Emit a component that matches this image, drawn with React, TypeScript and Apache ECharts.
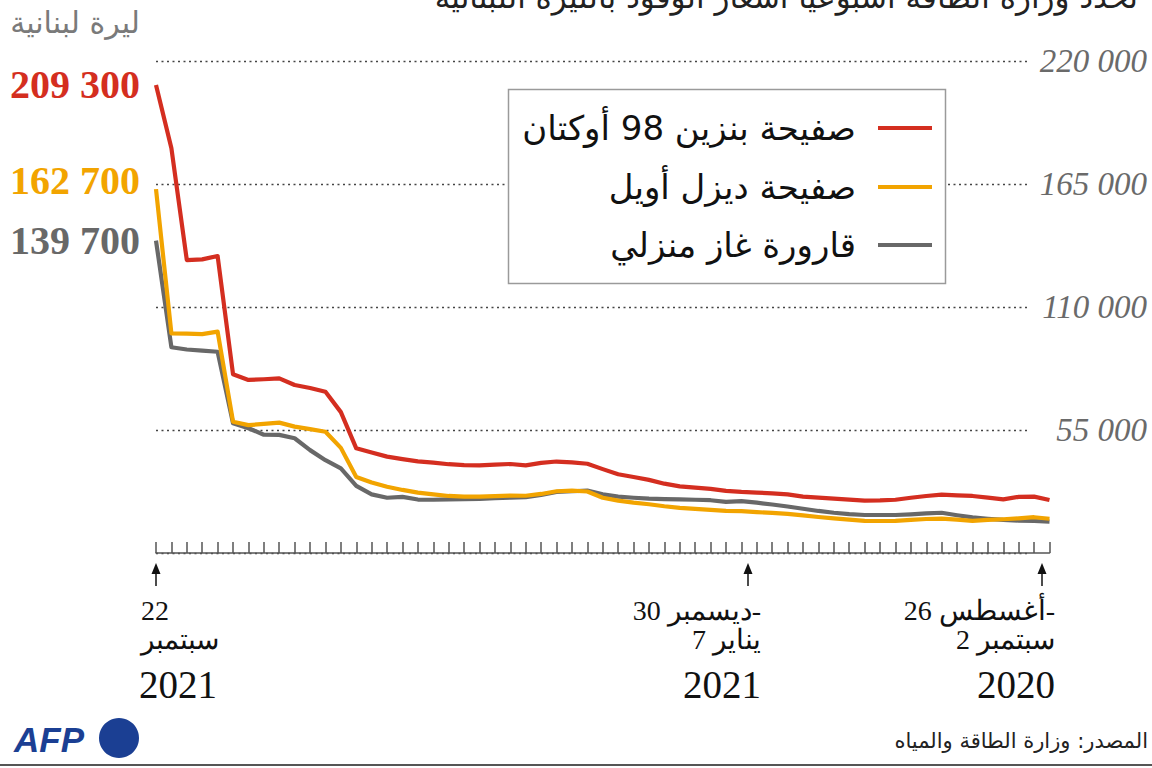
import React, { useEffect, useRef } from "react";
import * as echarts from "echarts";

// Weekly prices in Lebanese pounds, left (22 Sep 2021) → right (26 Aug–2 Sep 2020)
const petrol98 = [209300, 181000, 131000, 131300, 132800, 79900, 77400, 77700, 78100, 75100, 73800, 72100, 63000, 46800, 44900, 43100, 42000, 41000, 40400, 39700, 39300, 39200, 39500, 39800, 39200, 40300, 40900, 40500, 39900, 37500, 35200, 34000, 32700, 31000, 29800, 29200, 28700, 27800, 27300, 27000, 26700, 26200, 25200, 24800, 24300, 23900, 23450, 23500, 23800, 24700, 25500, 26100, 25800, 25500, 24800, 24000, 25100, 25200, 23700];
const diesel = [162700, 98200, 98100, 97900, 99000, 58700, 57200, 57700, 58300, 56500, 55400, 54200, 47000, 34000, 31500, 29600, 28200, 27000, 26200, 25500, 25200, 25200, 25400, 25700, 25600, 26400, 27600, 27900, 27500, 24700, 23400, 22500, 21800, 20900, 20200, 19700, 19300, 18800, 18700, 18300, 17900, 17500, 16800, 16100, 15500, 14900, 14400, 14300, 14400, 14800, 15200, 15400, 14900, 14400, 14800, 15100, 15500, 16000, 15300];
const gasCylinder = [139700, 92000, 91000, 90500, 90000, 58000, 55800, 52900, 52800, 51300, 46000, 41500, 37800, 30000, 26200, 24700, 25100, 23900, 23800, 24000, 24100, 24200, 24500, 24800, 25000, 26000, 27300, 27600, 27900, 26200, 25200, 24700, 24300, 24100, 24000, 23800, 23600, 22900, 23200, 22500, 21700, 20800, 19800, 18800, 18000, 17400, 17000, 17000, 17000, 17300, 17700, 18000, 16900, 15900, 15300, 14800, 14500, 14300, 14000];
const weeks = petrol98.map((_, i) => String(i));

const seriesNames = ["صفيحة بنزين 98 أوكتان", "صفيحة ديزل أويل", "قارورة غاز منزلي"];
const seriesColors = ["#d42e20", "#f2a400", "#686868"];

const yTicks = { min: 0, max: 220000, interval: 55000 };

// date annotations: [week position from left, line1, line2, year, align]
const dateMarks: [number, string, string, string, string][] = [
  [0, "22", "سبتمبر", "2021", "left"],
  [38.45, "30 ديسمبر-", "7 يناير", "2021", "right"],
  [57.5, "26 أغسطس-", "2 سبتمبر", "2020", "right"],
];

const title = "تحدد وزارة الطاقة أسبوعيا أسعار الوقود بالليرة اللبنانية";
const unit = "ليرة لبنانية";
const source = "المصدر: وزارة الطاقة والمياه";

const fmt = (v: number) => String(v).replace(/\B(?=(\d{3})+(?!\d))/g, " ");
const LRM = "\u200E";

const GRID_LEFT = 156;
const GRID_RIGHT_X = 1049.5;
const GRID_TOP = 61;
const GRID_BOTTOM_Y = 553;
const AR_FONT = '"DejaVu Sans", "Noto Sans", sans-serif';
const SERIF = '"Liberation Serif", "DejaVu Serif", serif';

export default function App() {
  const ref = useRef<HTMLDivElement>(null);
  useEffect(() => {
    if (!ref.current) return;
    const chart = echarts.init(ref.current, null, { renderer: "svg" });
    const step = (GRID_RIGHT_X - GRID_LEFT) / (weeks.length - 1);
    const allData = [petrol98, diesel, gasCylinder];
    const labelDy = [0, -9, 0];

    const graphic: any[] = [];
    graphic.push({
      type: "text",
      style: { text: title, x: 1138, y: -3, align: "right", verticalAlign: "middle", fontSize: 31, fontFamily: AR_FONT, fill: "#222" },
    });
    graphic.push({
      type: "text",
      style: { text: unit, x: 140, y: 22, align: "right", verticalAlign: "middle", fontSize: 30, fontFamily: AR_FONT, fill: "#7a7a7a" },
    });
    graphic.push({
      type: "rect",
      shape: { x: 508.5, y: 89.5, width: 437, height: 194 },
      style: { fill: "#fff", stroke: "#9a9a9a", lineWidth: 1.5 },
      z: 10,
    });
    const legendY = [128, 187, 245];
    seriesNames.forEach((name, i) => {
      graphic.push({
        type: "text",
        z: 11,
        style: { text: name, x: 856, y: legendY[i], align: "right", verticalAlign: "middle", fontSize: 34, fontFamily: AR_FONT, fill: "#111" },
      });
      graphic.push({
        type: "line",
        z: 11,
        shape: { x1: 878, y1: legendY[i], x2: 932, y2: legendY[i] },
        style: { stroke: seriesColors[i], lineWidth: 4 },
      });
    });
    dateMarks.forEach(([pos, l1, l2, yr, al]) => {
      const x = Math.round(GRID_LEFT + pos * step);
      graphic.push({ type: "line", shape: { x1: x, y1: 570, x2: x, y2: 586 }, style: { stroke: "#111", lineWidth: 1.5 } });
      graphic.push({ type: "polygon", shape: { points: [[x, 563], [x - 4.5, 574], [x + 4.5, 574]] }, style: { fill: "#111" } });
      const tx = al === "left" ? 141 : x + 13;
      graphic.push({
        type: "text",
        style: {
          text: LRM + l1 + "\n" + LRM + l2,
          x: tx,
          y: 596,
          align: al,
          verticalAlign: "top",
          fontSize: 28,
          lineHeight: 29,
          fontFamily: SERIF,
          fill: "#111",
        },
      });
      graphic.push({ type: "text", style: { text: yr, x: al === "left" ? 139 : x + 13, y: 684, align: al, verticalAlign: "middle", fontSize: 39, fontFamily: SERIF, fill: "#111" } });
    });
    graphic.push({
      type: "text",
      style: { text: "AFP", x: 14, y: 739, align: "left", verticalAlign: "middle", fontSize: 35, fontWeight: 900, fontStyle: "italic", fontFamily: '"Liberation Sans", Arial, sans-serif', fill: "#1b3f93" },
    });
    graphic.push({ type: "circle", shape: { cx: 119, cy: 738, r: 20 }, style: { fill: "#1b3f93" } });
    graphic.push({
      type: "text",
      style: { text: source, x: 1148, y: 741, align: "right", verticalAlign: "middle", fontSize: 21, fontFamily: AR_FONT, fill: "#222" },
    });
    graphic.push({ type: "rect", shape: { x: 0, y: 764, width: 1152, height: 2 }, style: { fill: "#555" } });

    chart.setOption({
      animation: false,
      backgroundColor: "#fff",
      grid: [
        { left: GRID_LEFT, right: 1152 - GRID_RIGHT_X, top: GRID_TOP, bottom: 768 - GRID_BOTTOM_Y },
        { left: GRID_LEFT, right: 1152 - 1028, top: GRID_TOP, bottom: 768 - GRID_BOTTOM_Y },
      ],
      xAxis: [
        {
          type: "category",
          gridIndex: 0,
          data: weeks,
          boundaryGap: false,
          axisLine: { lineStyle: { color: "#555", width: 1.5 } },
          axisTick: { show: true, inside: true, length: 11, interval: 0, lineStyle: { color: "#555", width: 1.5 } },
          axisLabel: { show: false },
          splitLine: { show: false },
          z: 5,
        },
        { type: "value", gridIndex: 1, show: false, min: 0, max: 1 },
      ],
      yAxis: [
        { type: "value", gridIndex: 0, ...yTicks, show: false, splitLine: { show: false } },
        {
          type: "value",
          gridIndex: 1,
          position: "right",
          ...yTicks,
          axisLine: { show: false },
          axisTick: { show: false },
          showMinLabel: false,
          axisLabel: {
            formatter: (v: number) => (v === 0 ? "" : fmt(v)),
            align: "right",
            margin: 119,
            fontSize: 33,
            fontStyle: "italic",
            fontFamily: SERIF,
            color: "#6a6a6a",
          },
          splitLine: { show: true, lineStyle: { color: "#444", width: 1.3, type: [2, 3.5] } },
        },
      ],
      legend: { show: false },
      series: allData.map((arr, si) => ({
        type: "line",
        name: seriesNames[si],
        xAxisIndex: 0,
        yAxisIndex: 0,
        symbol: "none",
        z: 3 - si,
        lineStyle: { color: seriesColors[si], width: 4.2, join: "round" },
        itemStyle: { color: seriesColors[si] },
        data: arr,
      })),
      graphic,
    });

    // starting-value labels, placed through the chart's own scale
    const labels = allData.map((arr, si) => {
      const p = chart.convertToPixel({ gridIndex: 0 }, [0, arr[0]]) as number[];
      return {
        type: "text",
        style: {
          text: fmt(arr[0]),
          x: p[0] - 16,
          y: p[1] + labelDy[si],
          align: "right",
          verticalAlign: "middle",
          fontSize: 40,
          fontWeight: "bold",
          fontFamily: SERIF,
          fill: seriesColors[si],
        },
      };
    });
    chart.setOption({ graphic: [...graphic, ...labels] });
    return () => chart.dispose();
  }, []);
  return <div ref={ref} style={{ position: "fixed", left: 0, top: 0, width: 1152, height: 768 }} />;
}
